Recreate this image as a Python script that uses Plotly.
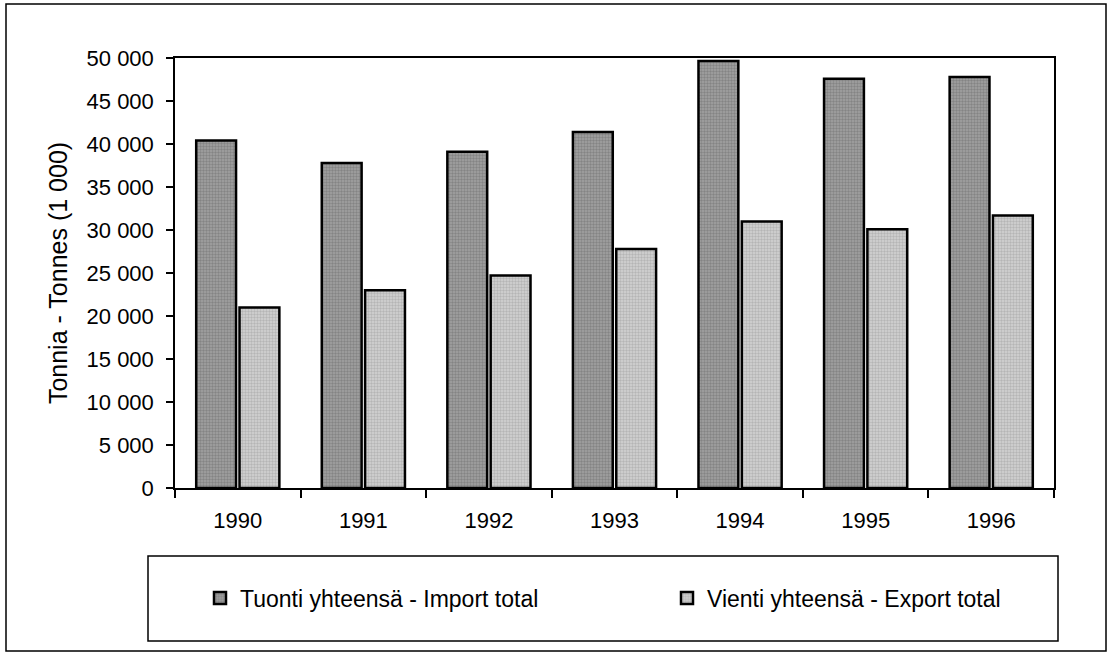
import plotly.graph_objects as go

years = ["1990", "1991", "1992", "1993", "1994", "1995", "1996"]
import_total = [40400, 37800, 39100, 41400, 49650, 47600, 47800]
export_total = [21000, 23000, 24700, 27800, 31000, 30100, 31700]
y_ticks = [0, 5000, 10000, 15000, 20000, 25000, 30000, 35000, 40000, 45000, 50000]

FONT = "Liberation Sans, Arial, Helvetica, sans-serif"

fig = go.Figure()
fig.add_trace(go.Bar(
    x=years, y=import_total, name="Tuonti yhteensä - Import total", legend="legend",
    marker=dict(color="#8e8e8e", line=dict(color="black", width=2.5),
                pattern=dict(shape=".", fgcolor="#666666", bgcolor="#a2a2a2", size=3, solidity=0.5)),
))
fig.add_trace(go.Bar(
    x=years, y=export_total, name="Vienti yhteensä - Export total", legend="legend2",
    marker=dict(color="#c0c0c0", line=dict(color="black", width=2.5),
                pattern=dict(shape=".", fgcolor="#969696", bgcolor="#d4d4d4", size=3, solidity=0.5)),
))

W, H = 1114, 654
L, R, T, B = 175, 60, 58, 166
pw, ph = W - L - R, H - T - B

def px_x(x):
    return (x - L) / pw

def px_y(y):
    return (H - B - y) / ph

legend_common = dict(orientation="h", xanchor="left", yanchor="middle",
                     bgcolor="rgba(0,0,0,0)", borderwidth=0, itemwidth=30,
                     font=dict(family=FONT, size=23, color="black"))

fig.update_layout(
    width=W, height=H,
    margin=dict(l=L, r=R, t=T, b=B, autoexpand=False),
    paper_bgcolor="white", plot_bgcolor="white",
    font=dict(family=FONT, size=22, color="black"),
    separators=", ",
    barmode="group", bargap=0.31, bargroupgap=0.08,
    showlegend=True,
    legend=dict(x=px_x(200), y=px_y(598), **legend_common),
    legend2=dict(x=px_x(667), y=px_y(598), **legend_common),
    xaxis=dict(showline=True, linecolor="black", linewidth=1.5, mirror=True,
               ticks="outside", ticklen=8, tickcolor="black", tickwidth=1.5,
               tickson="boundaries", showgrid=False, zeroline=False,
               ticklabelstandoff=12,
               tickfont=dict(size=22), fixedrange=True),
    yaxis=dict(range=[0, 50000], tickvals=y_ticks, tickformat=",d",
               showline=True, linecolor="black", linewidth=1.5, mirror=True,
               ticks="outside", ticklen=7, tickcolor="black", tickwidth=1.5,
               ticklabelstandoff=8,
               showgrid=False, zeroline=False, tickfont=dict(size=22), fixedrange=True,
               title=dict(text="Tonnia - Tonnes (1 000)", font=dict(size=25), standoff=12)),
    shapes=[
        dict(type="rect", xref="paper", yref="paper",
             x0=px_x(6), x1=px_x(1106), y0=px_y(651), y1=px_y(4),
             line=dict(color="black", width=1.5), fillcolor="rgba(0,0,0,0)", layer="below"),
        dict(type="rect", xref="paper", yref="paper",
             x0=px_x(148), x1=px_x(1058), y0=px_y(641), y1=px_y(556),
             line=dict(color="black", width=1.5), fillcolor="rgba(0,0,0,0)", layer="below"),
    ],
)

fig.write_html("out.html", config={"displayModeBar": False},
               post_script="document.body.style.margin='0';")
